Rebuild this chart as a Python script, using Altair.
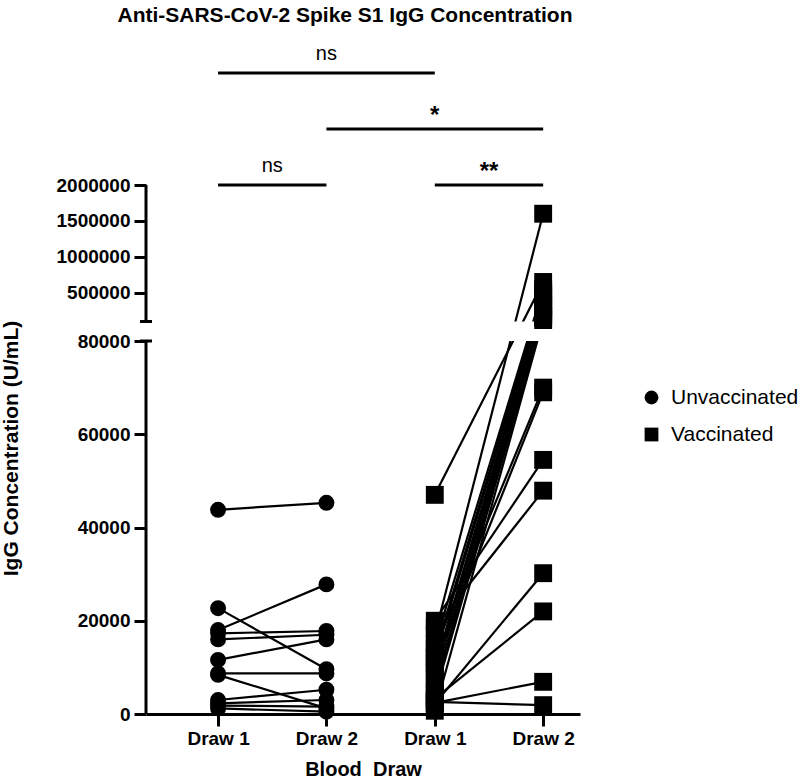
import altair as alt
import pandas as pd

FONT = "Liberation Sans"

# ---------------- data ----------------
groups = ["Unvaccinated", "Vaccinated"]
draw_labels = ["Draw 1", "Draw 2", "Draw 1", "Draw 2"]
draw_positions = [1, 2, 3, 4]

unvacc_draw1 = [43800, 22700, 18000, 17300, 16000, 11600, 8700, 8400, 3000, 2300, 1800, 1200]
unvacc_draw2 = [45300, 9600, 27800, 17800, 17000, 16000, 8700, 1200, 5200, 3000, 1600, 500]

vacc_draw1 = [47000, 17000, 15000, 13000, 12000, 10000, 9000, 7500, 6000, 5000, 4000, 700,
              14000, 11000, 20000, 18500, 2200, 3300, 2400, 2600]
vacc_draw2 = [650000, 1600000, 550000, 500000, 450000, 400000, 330000, 280000, 230000, 180000,
              150000, 120000, 70000, 69000, 54500, 47900, 30200, 22000, 6900, 1900]

y_ticks = [0, 20000, 40000, 60000, 80000, 500000, 1000000, 1500000, 2000000]
break_low = 80000
break_high = 100000
y_max = 2000000
y_annot_top = 3000000          # headroom above the axis used by the significance brackets

bracket_x1 = [1, 2, 1, 3]
bracket_x2 = [3, 4, 2, 4]
bracket_y = [3000000, 2500000, 2000000, 2000000]
bracket_label = ["ns", "*", "ns", "**"]

# ---------------- tables ----------------
rows = []
for i, (a, b) in enumerate(zip(unvacc_draw1, unvacc_draw2)):
    rows.append(dict(subject=f"U{i}", group=groups[0], pos=draw_positions[0], value=a))
    rows.append(dict(subject=f"U{i}", group=groups[0], pos=draw_positions[1], value=b))
for i, (a, b) in enumerate(zip(vacc_draw1, vacc_draw2)):
    rows.append(dict(subject=f"V{i}", group=groups[1], pos=draw_positions[2], value=a))
    rows.append(dict(subject=f"V{i}", group=groups[1], pos=draw_positions[3], value=b))
df = pd.DataFrame(rows)

gap_df = pd.DataFrame({"value": [break_low], "value2": [break_high]})
axis_seg_df = pd.DataFrame({"value": [0, break_high], "value2": [break_low, y_max]})
cap_df = pd.DataFrame({"value": [break_low, break_high]})

br_df = pd.DataFrame({"pos": bracket_x1, "pos2": bracket_x2, "value": bracket_y,
                      "label": bracket_label})
lab_df = pd.DataFrame({"pos": [(a + b) / 2 for a, b in zip(bracket_x1, bracket_x2)],
                       "value": bracket_y, "label": bracket_label})

# ---------------- layout ----------------
W, H = 434, 674
PAD_L, PAD_T = 146, 40

xscale = alt.Scale(domain=[0.335, 4.34], nice=False, zero=False)
xaxis = alt.Axis(
    values=draw_positions,
    labelExpr=f"{draw_labels}[datum.value - 1]",
    title="Blood\u00a0\u00a0Draw", grid=False,
    domainWidth=3, domainColor="black", tickWidth=3, tickSize=12, tickColor="black",
    labelFont=FONT, labelFontSize=19, labelFontWeight="bold", labelColor="black",
    labelPadding=3, titleFont=FONT, titleFontSize=20, titleFontWeight="bold",
    titleColor="black", titleY=45, titleBaseline="top",
)
x_enc = alt.X("pos:Q", scale=xscale, axis=xaxis)

yscale = alt.Scale(domain=[0, break_low, break_high, y_max, y_annot_top],
                   range=[674, 301, 281.5, 145, 33], nice=False, zero=False)
yaxis = alt.Axis(
    values=y_ticks, format="d", grid=False, domain=False,
    tickWidth=3, tickSize=12, tickColor="black",
    labelFont=FONT, labelFontSize=19, labelFontWeight="bold", labelColor="black",
    labelPadding=4, title="IgG Concentration (U/mL)", titleFont=FONT, titleFontSize=21,
    titleFontWeight="bold", titleColor="black", titleX=-135, titleY=408,
    titleAngle=270, titleAlign="center", titleBaseline="middle",
)
y_enc = alt.Y("value:Q", scale=yscale, axis=yaxis)

shape_enc = alt.Shape(
    "group:N",
    scale=alt.Scale(domain=groups, range=["circle", "square"]),
    legend=alt.Legend(title=None, orient="none", legendX=495, legendY=347,
                      labelFont=FONT, labelFontSize=21, labelColor="black",
                      symbolFillColor="black", symbolStrokeColor="black",
                      symbolSize=190, rowPadding=15, labelOffset=9),
)

base = alt.Chart(df)

lines = base.mark_line(color="black", strokeWidth=2.2).encode(
    x=x_enc, y=y_enc, detail="subject:N", order="pos:Q")

gap = alt.Chart(gap_df).mark_rect(color="white").encode(
    x=alt.value(1.5), x2=alt.value(W), y=y_enc, y2="value2:Q")

# white masks over the plot frame edges (top, right, left above the axis)
frame_top = alt.Chart(cap_df.head(1)).mark_rule(color="white", strokeWidth=3).encode(
    x=alt.value(-1), x2=alt.value(W + 2), y=alt.value(0))
frame_right = alt.Chart(cap_df.head(1)).mark_rule(color="white", strokeWidth=3).encode(
    x=alt.value(W), y=alt.value(-1), y2=alt.value(H - 3))
frame_left = alt.Chart(cap_df.head(1)).mark_rule(color="white", strokeWidth=3).encode(
    x=alt.value(0), y=alt.value(-1), y2=alt.value(143))

axis_segs = alt.Chart(axis_seg_df).mark_rule(color="black", strokeWidth=3).encode(
    x=alt.value(0), y=y_enc, y2="value2:Q")

caps = alt.Chart(cap_df).mark_rule(color="black", strokeWidth=3).encode(
    x=alt.value(-6), x2=alt.value(6), y=y_enc)

circles = base.transform_filter(alt.datum.group == groups[0]).mark_point(
    filled=True, color="black", opacity=1, size=254).encode(x=x_enc, y=y_enc, shape=shape_enc)
squares = base.transform_filter(alt.datum.group == groups[1]).mark_point(
    filled=True, color="black", opacity=1, size=320).encode(x=x_enc, y=y_enc, shape=shape_enc)

br_rules = alt.Chart(br_df).mark_rule(color="black", strokeWidth=3).encode(
    x=x_enc, x2="pos2:Q", y=y_enc)
ns_text = alt.Chart(lab_df).transform_filter(alt.datum.label == "ns").mark_text(
    font=FONT, fontSize=20, color="black", baseline="alphabetic", dy=-13).encode(
    x=x_enc, y=y_enc, text="label:N")
star_text = alt.Chart(lab_df).transform_filter(alt.datum.label != "ns").mark_text(
    font=FONT, fontSize=24, fontWeight="bold", color="black", baseline="alphabetic", dy=-6).encode(
    x=x_enc, y=y_enc, text="label:N")

chart = alt.layer(lines, gap, frame_top, frame_right, frame_left, axis_segs, caps,
                  circles, squares, br_rules, ns_text, star_text).properties(
    width=W, height=H, background="white",
    title=alt.TitleParams(text="Anti-SARS-CoV-2 Spike S1 IgG Concentration", font=FONT,
                          fontSize=21, fontWeight="bold", color="black", anchor="middle",
                          dx=-18, offset=12),
    autosize=alt.AutoSizeParams(type="none"),
    padding={"left": PAD_L, "top": PAD_T, "right": 800 - PAD_L - W, "bottom": 781 - PAD_T - H},
).configure_view(stroke=None, strokeWidth=0)

chart.save("out.html", embed_options={"renderer": "svg", "actions": False})
